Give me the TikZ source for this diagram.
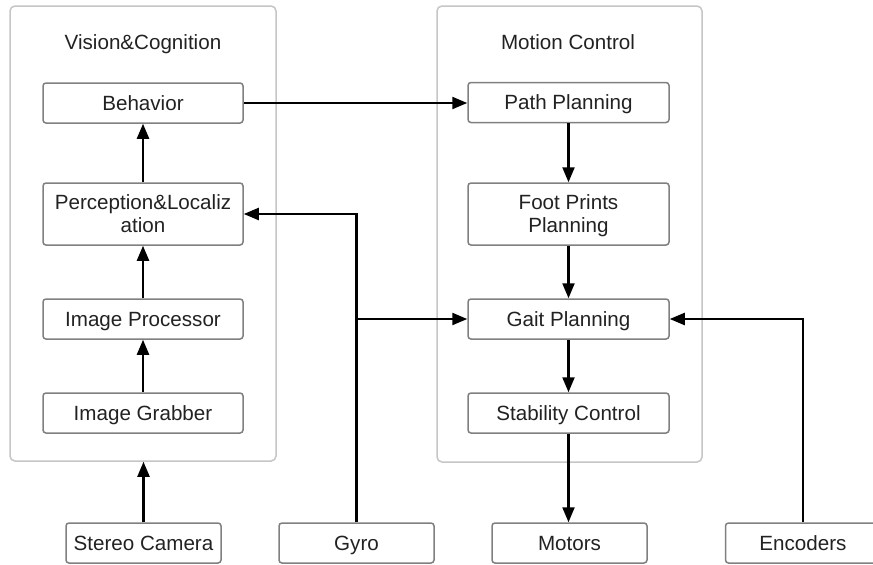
\documentclass[tikz,border=0pt]{standalone}
\usepackage{fontspec}
\setmainfont{Liberation Sans}
\usetikzlibrary{arrows.meta}
\definecolor{boxgray}{HTML}{808080}
\definecolor{frame}{HTML}{C6C6C6}
\definecolor{txt}{HTML}{222222}
\newcommand{\lblfont}{\fontsize{20.6}{23}\selectfont}
\begin{document}
\begin{tikzpicture}[x=1pt,y=-1pt,
  box/.style={draw=boxgray, line width=1.5pt, rounded corners=3pt, minimum width=200pt, minimum height=40pt, inner sep=0pt, align=center, font=\lblfont, text=txt, text depth=0pt},
  ext/.style={box, minimum width=155pt},
  group/.style={draw=frame, line width=1.5pt, rounded corners=5pt, inner sep=0pt},
  title/.style={font=\lblfont, text=txt, inner sep=0pt, text depth=0pt},
  arr/.style={line width=2.2pt, -{Triangle[length=15pt,width=12pt]}},
  ln/.style={line width=2.2pt}]
\useasboundingbox (0,0) rectangle (873,565);
\clip (0,0) rectangle (873,565);
\fill[white] (0,0) rectangle (873,565);
% containers
\node[group, minimum width=266pt, minimum height=455pt] (vc) at (143,233.5) {};
\node[group, minimum width=265pt, minimum height=456pt] (mc) at (569.5,234) {};
\node[title] (vct) at (143,42.5) {Vision\&Cognition};
\node[title] (mct) at (568,42.5) {Motion Control};
% left column
\node[box] (beh) at (143,103) {Behavior};
\node[box, minimum height=62pt] (per) at (143,214) {Perception\&Localiz\\ation};
\node[box] (ip) at (143,319) {Image Processor};
\node[box] (ig) at (143,413) {Image Grabber};
% right column
\node[box, minimum width=201pt] (pp) at (568.5,102.5) {Path Planning};
\node[box, minimum width=201pt, minimum height=62pt] (fp) at (568.5,214) {Foot Prints\\Planning};
\node[box, minimum width=201pt] (gp) at (568.5,319) {Gait Planning};
\node[box, minimum width=201pt] (sc) at (568.5,413) {Stability Control};
% external
\node[ext] (cam) at (143.5,543) {Stereo Camera};
\node[ext] (gyro) at (356.5,543) {Gyro};
\node[ext] (mot) at (569.5,543) {Motors};
\node[ext] (enc) at (803,543) {Encoders};
% connectors
\draw[arr] (per.north) -- (beh.south);
\draw[arr] (ip.north) -- (per.south);
\draw[arr] (ig.north) -- (ip.south);
\draw[arr] (cam.north) -- (cam.north |- vc.south);
\draw[arr] (beh.east) -- (beh.east -| pp.west);
\draw[arr] (pp.south) -- (fp.north);
\draw[arr] (fp.south) -- (gp.north);
\draw[arr] (gp.south) -- (sc.north);
\draw[arr] (sc.south) -- (sc.south |- mot.north);
\draw[arr] (gyro.north) |- (per.east);
\coordinate (gj) at (gyro.north |- gp.west);
\draw[arr] (gj) -- (gp.west);
\draw[arr] (enc.north) |- (gp.east);
\end{tikzpicture}
\end{document}
